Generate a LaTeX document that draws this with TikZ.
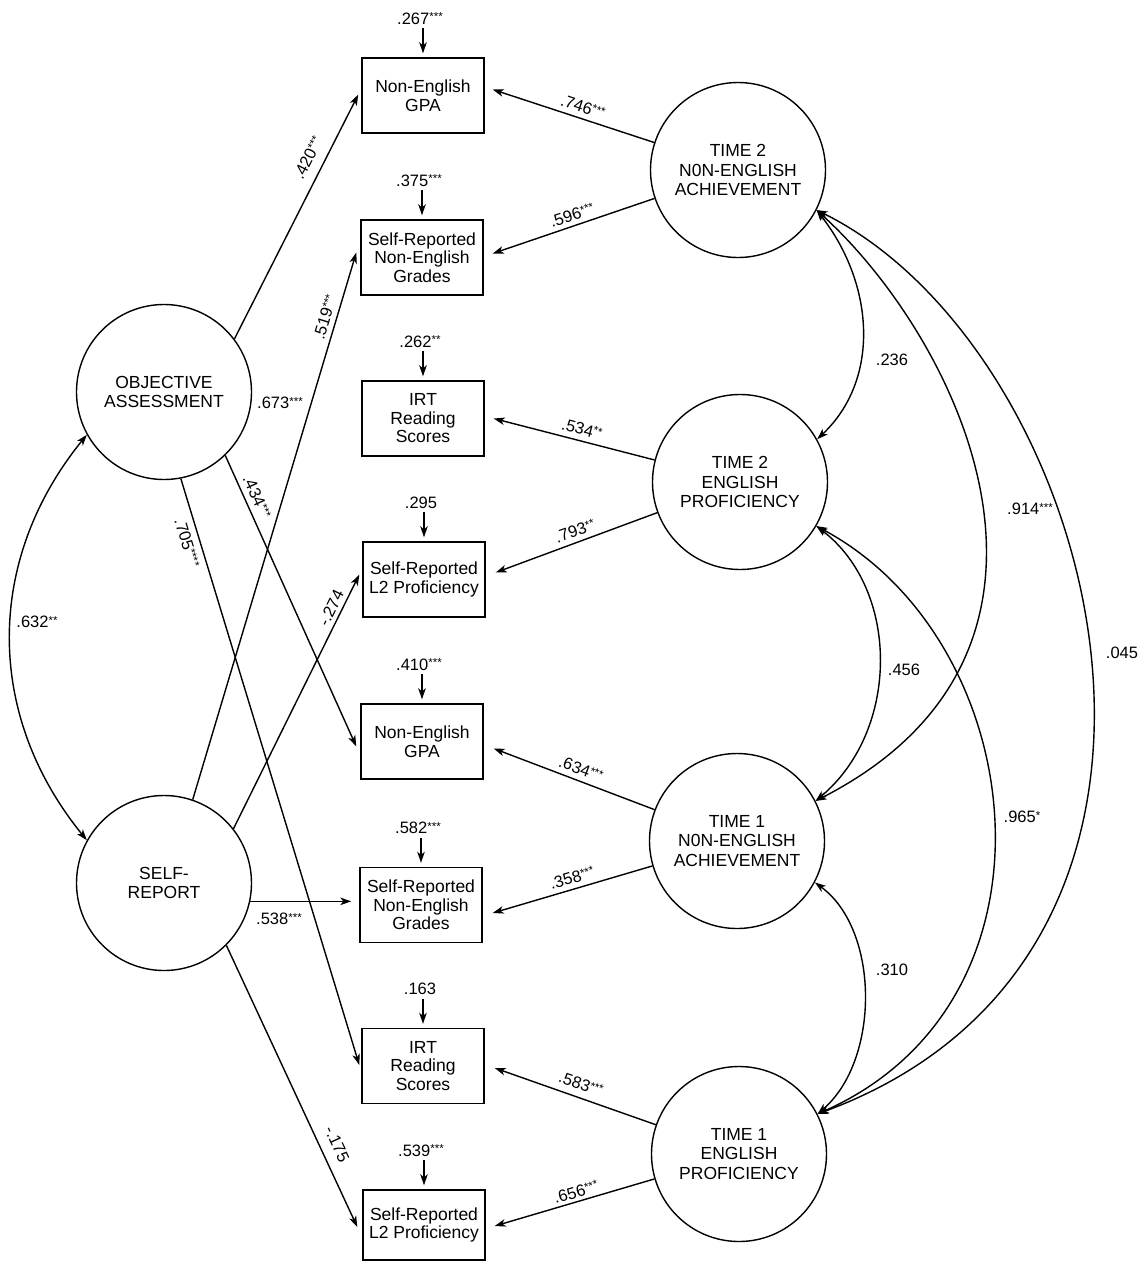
\documentclass[tikz,border=0pt]{standalone}
\usepackage{fontspec}
\setmainfont{Liberation Sans}
\usetikzlibrary{arrows.meta,calc}
\newcommand{\sig}[1]{\raisebox{0.22em}{\fontsize{11.5}{11.5}\selectfont #1}}
\begin{document}
\begin{tikzpicture}[x=1pt,y=-1pt,
  lat/.style={circle,draw,line width=1.4pt,minimum size=175pt,inner sep=0pt,align=center,font=\fontsize{17.5}{19.5}\selectfont},
  obs/.style={rectangle,draw,line width=1.4pt,minimum width=122pt,minimum height=75pt,inner sep=0pt,align=center,font=\fontsize{17.5}{18.5}\selectfont},
  lbl/.style={inner sep=0pt,font=\fontsize{16.5}{18}\selectfont},
  tip/.style={-{Stealth[length=11pt,width=7.5pt,inset=3pt]}},
  arr/.style={line width=1.4pt,tip},
  darr/.style={line width=1.4pt,{Stealth[length=11pt,width=7.5pt,inset=3pt]}-{Stealth[length=11pt,width=7.5pt,inset=3pt]}},
]
\useasboundingbox (0,0) rectangle (1144,1262);

% latent variables
\node[lat] (obj)  at (164,392)  {OBJECTIVE\\ASSESSMENT};
\node[lat] (self) at (164,883)  {SELF-\\REPORT};
\node[lat] (t2ne) at (738,170)  {TIME 2\\N0N-ENGLISH\\ACHIEVEMENT};
\node[lat] (t2ep) at (740,482)  {TIME 2\\ENGLISH\\PROFICIENCY};
\node[lat] (t1ne) at (737,841)  {TIME 1\\N0N-ENGLISH\\ACHIEVEMENT};
\node[lat] (t1ep) at (739,1154) {TIME 1\\ENGLISH\\PROFICIENCY};

% observed variables
\node[obs] (b1) at (423,95.5)  {Non-English\\GPA};
\node[obs] (b2) at (422,257.5) {Self-Reported\\Non-English\\Grades};
\node[obs] (b3) at (423,418.5) {IRT\\Reading\\Scores};
\node[obs] (b4) at (424,579.5) {Self-Reported\\L2 Proficiency};
\node[obs] (b5) at (422,741.5) {Non-English\\GPA};
\node[obs] (b6) at (421,905)   {Self-Reported\\Non-English\\Grades};
\node[obs] (b7) at (423,1066)  {IRT\\Reading\\Scores};
\node[obs,minimum height=70pt] (b8) at (424,1225) {Self-Reported\\L2 Proficiency};

% error variances
\foreach \b/\t in {b1/.267\sig{***},b2/.375\sig{***},b3/.262\sig{**},b4/.295,b5/.410\sig{***},b6/.582\sig{***},b7/.163,b8/.539\sig{***}}{
  \node[lbl,anchor=base] (e\b) at ($(\b.north)+(-3,-33)$) {\t};
  \draw[arr,shorten <=4pt,shorten >=4pt] (e\b.base -| \b.north) -- (\b.north);
}

% loadings from the right
\draw[arr] (t2ne) -- ($(b1.east)+(8,-6)$);
\draw[arr] (t2ne) -- ($(b2.east)+(9,-4)$);
\draw[arr] (t2ep) -- ($(b3.east)+(9,0)$);
\draw[arr] (t2ep) -- ($(b4.east)+(10,-7)$);
\draw[arr] (t1ne) -- ($(b5.east)+(10,7)$);
\draw[arr] (t1ne) -- ($(b6.east)+(10,8)$);
\draw[arr] (t1ep) -- ($(b7.east)+(10,2)$);
\draw[arr] (t1ep) -- ($(b8.east)+(9,1)$);

% loadings from the left
\draw[arr] (obj.37)    -- ($(b1.west)+(-3,-1)$);
\draw[arr] (obj.-46)   -- ($(b5.west)+(-4,5)$);
\draw[arr] (obj.-79.5) -- ($(b7.west)+(-2,-1)$);
\draw[arr] (self.71)   -- ($(b2.west)+(-4,-5)$);
\draw[arr] (self.38)   -- ($(b4.west)+(-3,-5)$);
\draw[arr,shorten >=8pt] (self.-12.5) -- (self.-12.5 -| b6.west);
\draw[arr] (self.-45)  -- ($(b8.west)+(-5,2)$);

% covariances
\draw[darr] (obj.209) .. controls (-15,560) and (-15,715) .. (self.151);
\draw[darr] (t2ne.-27) .. controls (875,285) and (880,380) .. (t2ep.29);
\draw[darr] (t2ne.-27) .. controls (960,340) and (1110,650) .. (t1ne.27);
\draw[darr] (t2ne.-27) .. controls (1100,350) and (1260,950) .. (t1ep.27);
\draw[darr] (t2ep.-30) .. controls (900,590) and (900,730) .. (t1ne.27);
\draw[darr] (t2ep.-30) .. controls (1030,640) and (1074,1000) .. (t1ep.27);
\draw[darr] (t1ne.-28) .. controls (880,930) and (880,1060) .. (t1ep.27);

% path labels, right
\node[lbl,rotate=-18.4] (l1) at (583,107)  {.746\sig{***}};
\node[lbl,rotate=18]    (l2) at (572,215)  {.596\sig{***}};
\node[lbl,rotate=-15]   (l3) at (582,429)  {.534\sig{**}};
\node[lbl,rotate=18.8]  (l4) at (575,531)  {.793\sig{**}};
\node[lbl,rotate=-20.5] (l5) at (581,769)  {.634\sig{***}};
\node[lbl,rotate=16.2]  (l6) at (572,878)  {.358\sig{***}};
\node[lbl,rotate=-19.2] (l7) at (581,1084) {.583\sig{***}};
\node[lbl,rotate=16.3]  (l8) at (576,1192) {.656\sig{***}};

% path labels, left
\node[lbl,rotate=63]    (l9)  at (308,158)  {.420\sig{***}};
\node[lbl,rotate=73]    (l10) at (325,317)  {.519\sig{***}};
\node[lbl]              (l11) at (280,403)  {.673\sig{***}};
\node[lbl,rotate=-65.5] (l12) at (257,497)  {.434\sig{***}};
\node[lbl,rotate=-73]   (l13) at (187,543)  {.705\sig{****}};
\node[lbl,rotate=63.7]  (l14) at (331,608)  {-.274};
\node[lbl]              (l15) at (279,919)  {.538\sig{***}};
\node[lbl,rotate=-65.3] (l16) at (337,1144) {-.175};
\node[lbl]              (l17) at (37,622)   {.632\sig{**}};

% covariance labels
\node[lbl] (c1) at (892,360)  {.236};
\node[lbl] (c2) at (1030,509) {.914\sig{***}};
\node[lbl] (c3) at (1122,653) {.045};
\node[lbl] (c4) at (904,670)  {.456};
\node[lbl] (c5) at (1022,817) {.965\sig{*}};
\node[lbl] (c6) at (892,970)  {.310};
\end{tikzpicture}
\end{document}
